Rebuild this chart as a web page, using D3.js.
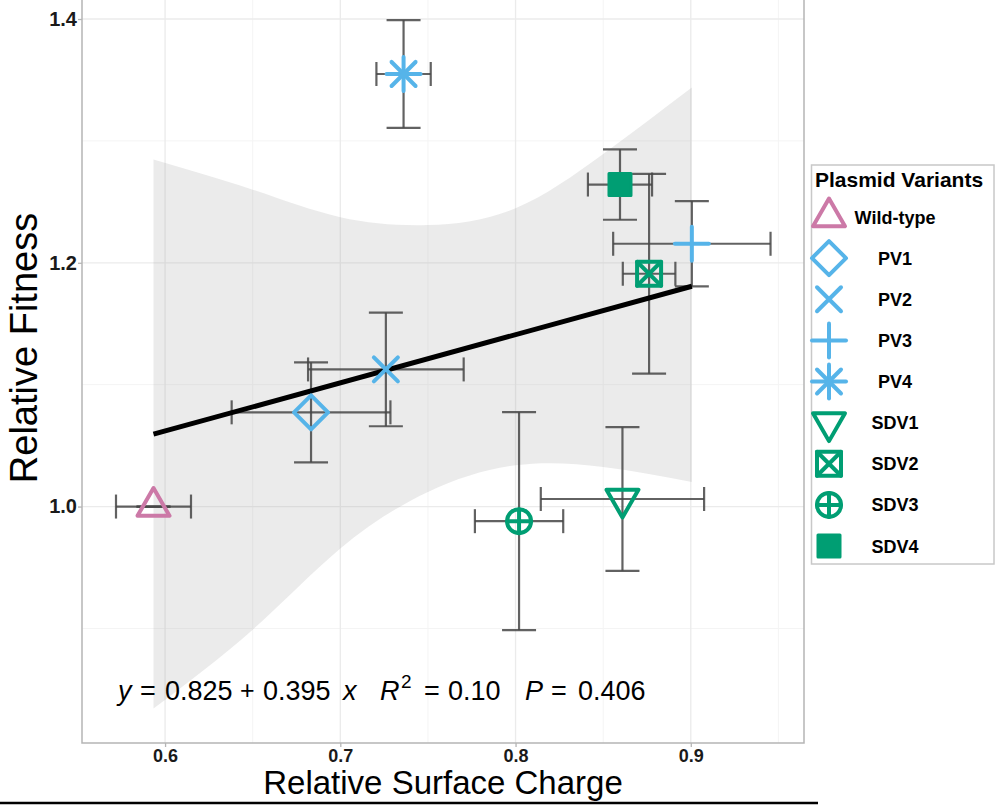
<!DOCTYPE html>
<html>
<head>
<meta charset="utf-8">
<script src="https://cdn.jsdelivr.net/npm/d3@7"></script>
<style>
  html, body { margin: 0; padding: 0; background: #fff; }
  text { font-family: "Liberation Sans", Arial, Helvetica, sans-serif; }
</style>
</head>
<body>
<div class="container"></div>
<script>
// ---- data ----
const variants = ["Wild-type", "PV1", "PV2", "PV3", "PV4", "SDV1", "SDV2", "SDV3", "SDV4"];
const surfaceCharge = [0.5934, 0.6833, 0.7260, 0.9006, 0.7361, 0.8610, 0.8762, 0.8020, 0.8596];
const chargeErr     = [0.0214, 0.0453, 0.0444, 0.0449, 0.0155, 0.0466, 0.0150, 0.0252, 0.0183];
const fitness       = [1.0000, 1.0773, 1.1125, 1.2156, 1.3549, 1.0062, 1.1910, 0.9880, 1.2642];
const fitnessErr    = [0.0000, 0.0410, 0.0466, 0.0350, 0.0442, 0.0589, 0.0820, 0.0894, 0.0289];
const shapes  = ["triUp", "diamond", "cross", "plus", "asterisk", "triDown", "squareX", "circlePlus", "squareFill"];
const colours = ["#CC79A7", "#56B4E9", "#56B4E9", "#56B4E9", "#56B4E9", "#009E73", "#009E73", "#009E73", "#009E73"];

// regression y = 0.825 + 0.395 x over the data range
const fitIntercept = 0.825;
const fitSlope = 0.395;
const fitRange = [0.5934, 0.9006];

// confidence band read at these x values
const bandX     = [0.5934, 0.65, 0.70, 0.75, 0.80, 0.85, 0.9006];
const bandUpper = [1.2847, 1.260, 1.2374, 1.2310, 1.2448, 1.2893, 1.3439];
const bandLower = [0.8344, 0.899, 0.9656, 1.0120, 1.0339, 1.0325, 1.0202];

const xTicks = [0.6, 0.7, 0.8, 0.9];
const xMinor = [0.65, 0.75, 0.85, 0.95];
const yTicks = [1.0, 1.2, 1.4];
const yMinor = [0.9, 1.1, 1.3];

const xTitle = "Relative Surface Charge";
const yTitle = "Relative Fitness";
const legendTitle = "Plasmid Variants";

// equation pieces: [text, italic, size, x position, baseline shift]
const eqParts = [
  ["y", true, 27, 118, 0], ["=", false, 27, 140, 0], ["0.825", false, 27, 165, 0],
  ["+", false, 25, 240, -1], ["0.395", false, 27, 263, 0], ["x", true, 27, 343, 0],
  ["R", true, 27, 380, 0], ["2", false, 19, 401, -12], ["=", false, 27, 424, 0],
  ["0.10", false, 27, 448, 0], ["P", true, 27, 525, 0], ["=", false, 27, 551, 0],
  ["0.406", false, 27, 578, 0]
];

// ---- layout ----
const WIDTH = 997, HEIGHT = 805;
const PANEL = { left: 82, right: 804, top: -1, bottom: 743 };

const svg = d3.select(".container")
  .append("svg")
  .attr("xmlns", "http://www.w3.org/2000/svg")
  .attr("width", WIDTH)
  .attr("height", HEIGHT)
  .attr("viewBox", `0 0 ${WIDTH} ${HEIGHT}`);

svg.append("rect")
  .attr("width", WIDTH)
  .attr("height", HEIGHT)
  .attr("fill", "#fff");

const x = d3.scaleLinear()
  .domain([0.5526, 0.9646])
  .range([PANEL.left, PANEL.right]);

const y = d3.scaleLinear()
  .domain([0.806, 1.4156])
  .range([PANEL.bottom, PANEL.top + 1]);

// grid (minor first, then major)
const grid = svg.append("g").attr("class", "grid");
grid.selectAll(".xminor").data(xMinor).enter().append("line")
  .attr("x1", d => x(d)).attr("x2", d => x(d))
  .attr("y1", PANEL.top).attr("y2", PANEL.bottom)
  .attr("stroke", "#f4f4f4").attr("stroke-width", 1);
grid.selectAll(".yminor").data(yMinor).enter().append("line")
  .attr("x1", PANEL.left).attr("x2", PANEL.right)
  .attr("y1", d => y(d)).attr("y2", d => y(d))
  .attr("stroke", "#f4f4f4").attr("stroke-width", 1);
grid.selectAll(".xmajor").data(xTicks).enter().append("line")
  .attr("x1", d => x(d)).attr("x2", d => x(d))
  .attr("y1", PANEL.top).attr("y2", PANEL.bottom)
  .attr("stroke", "#ebebeb").attr("stroke-width", 1.3);
grid.selectAll(".ymajor").data(yTicks).enter().append("line")
  .attr("x1", PANEL.left).attr("x2", PANEL.right)
  .attr("y1", d => y(d)).attr("y2", d => y(d))
  .attr("stroke", "#ebebeb").attr("stroke-width", 1.3);

// confidence band
const band = bandX.map((v, i) => ({ x: v, lo: bandLower[i], hi: bandUpper[i] }));
svg.append("path")
  .datum(band)
  .attr("fill", "#999999")
  .attr("fill-opacity", 0.2)
  .attr("d", d3.area()
    .x(d => x(d.x))
    .y0(d => y(d.lo))
    .y1(d => y(d.hi))
    .curve(d3.curveNatural));

const points = variants.map((name, i) => ({
  name, sx: surfaceCharge[i], sxe: chargeErr[i], fy: fitness[i], fye: fitnessErr[i],
  shape: shapes[i], colour: colours[i]
}));

// error bars
const bars = svg.append("g")
  .attr("stroke", "#464646")
  .attr("stroke-opacity", 0.85)
  .attr("stroke-width", 2.2)
  .attr("fill", "none");
points.forEach(p => {
  const g = bars.append("g");
  // vertical
  g.append("line").attr("x1", x(p.sx)).attr("x2", x(p.sx))
    .attr("y1", y(p.fy - p.fye)).attr("y2", y(p.fy + p.fye));
  [p.fy - p.fye, p.fy + p.fye].forEach(v => {
    g.append("line").attr("x1", x(p.sx) - 17).attr("x2", x(p.sx) + 17)
      .attr("y1", y(v)).attr("y2", y(v));
  });
  // horizontal
  g.append("line").attr("x1", x(p.sx - p.sxe)).attr("x2", x(p.sx + p.sxe))
    .attr("y1", y(p.fy)).attr("y2", y(p.fy));
  [p.sx - p.sxe, p.sx + p.sxe].forEach(v => {
    g.append("line").attr("x1", x(v)).attr("x2", x(v))
      .attr("y1", y(p.fy) - 12).attr("y2", y(p.fy) + 12);
  });
});

// regression line
svg.append("path")
  .datum(fitRange)
  .attr("fill", "none")
  .attr("stroke", "#000")
  .attr("stroke-width", 5)
  .attr("d", d3.line()
    .x(d => x(d))
    .y(d => y(fitIntercept + fitSlope * d)));

// symbol drawing, ggplot-like shapes
function drawShape(g, shape, colour) {
  const sw = 4;
  const stroke = sel => sel.attr("stroke", colour).attr("stroke-width", sw)
    .attr("fill", "none").attr("stroke-linecap", "round").attr("stroke-linejoin", "round");
  const seg = (x1, y1, x2, y2) => g.append("line")
    .attr("x1", x1).attr("y1", y1).attr("x2", x2).attr("y2", y2).call(stroke);
  if (shape === "triUp") {
    g.append("path").attr("d", "M0,-18.5L16,9.3L-16,9.3Z").call(stroke);
  } else if (shape === "triDown") {
    g.append("path").attr("d", "M0,18.5L16,-9.3L-16,-9.3Z").call(stroke);
  } else if (shape === "diamond") {
    g.append("path").attr("d", "M0,-17L17,0L0,17L-17,0Z").call(stroke);
  } else if (shape === "cross") {
    seg(-12, -12, 12, 12); seg(-12, 12, 12, -12);
  } else if (shape === "plus") {
    seg(-17, 0, 17, 0); seg(0, -17, 0, 17);
  } else if (shape === "asterisk") {
    seg(-17, 0, 17, 0); seg(0, -17, 0, 17);
    seg(-12, -12, 12, 12); seg(-12, 12, 12, -12);
  } else if (shape === "squareX") {
    g.append("rect").attr("x", -12).attr("y", -12).attr("width", 24).attr("height", 24).call(stroke);
    seg(-12, -12, 12, 12); seg(-12, 12, 12, -12);
  } else if (shape === "circlePlus") {
    g.append("circle").attr("r", 12).call(stroke);
    seg(-12, 0, 12, 0); seg(0, -12, 0, 12);
  } else if (shape === "squareFill") {
    g.append("rect").attr("x", -11).attr("y", -11).attr("width", 22).attr("height", 22)
      .attr("fill", colour).attr("stroke", colour).attr("stroke-width", 3)
      .attr("stroke-linejoin", "round");
  }
}

// points
const pts = svg.append("g").attr("class", "points");
points.forEach(p => {
  const g = pts.append("g").attr("transform", `translate(${x(p.sx)},${y(p.fy)})`);
  drawShape(g, p.shape, p.colour);
});

// equation
const eq = svg.append("text")
  .attr("y", 700)
  .attr("font-size", 27)
  .attr("fill", "#000");
eqParts.forEach(([t, italic, size, px, shift]) => {
  eq.append("tspan")
    .attr("x", px)
    .attr("y", 700 + shift)
    .attr("font-size", size)
    .attr("font-style", italic ? "italic" : "normal")
    .text(t);
});

// panel border
svg.append("rect")
  .attr("x", PANEL.left)
  .attr("y", PANEL.top)
  .attr("width", PANEL.right - PANEL.left)
  .attr("height", PANEL.bottom - PANEL.top)
  .attr("fill", "none")
  .attr("stroke", "#b5b5b5")
  .attr("stroke-width", 1.5);

// axes
const xAxis = svg.append("g")
  .attr("transform", `translate(0,${PANEL.bottom})`)
  .call(d3.axisBottom(x).tickValues(xTicks).tickFormat(d3.format(".1f")).tickSize(4).tickPadding(2));
xAxis.select(".domain").remove();
xAxis.selectAll(".tick line").attr("stroke", "#b5b5b5").attr("stroke-width", 1.3);
xAxis.selectAll(".tick text")
  .attr("font-size", 18).attr("font-weight", "bold").attr("fill", "#1a1a1a")
  .attr("font-family", "'Liberation Sans', Arial, sans-serif");

const yAxis = svg.append("g")
  .attr("transform", `translate(${PANEL.left},0)`)
  .call(d3.axisLeft(y).tickValues(yTicks).tickFormat(d3.format(".1f")).tickSize(4).tickPadding(1));
yAxis.select(".domain").remove();
yAxis.selectAll(".tick line").attr("stroke", "#b5b5b5").attr("stroke-width", 1.3);
yAxis.selectAll(".tick text")
  .attr("font-size", 20).attr("font-weight", "bold").attr("fill", "#1a1a1a")
  .attr("font-family", "'Liberation Sans', Arial, sans-serif");

// axis titles
svg.append("text")
  .attr("x", (PANEL.left + PANEL.right) / 2)
  .attr("y", 794)
  .attr("text-anchor", "middle")
  .attr("font-size", 33)
  .text(xTitle);

svg.append("text")
  .attr("transform", `translate(37,348) rotate(-90)`)
  .attr("text-anchor", "middle")
  .attr("font-size", 38)
  .text(yTitle);

// legend
const legend = svg.append("g").attr("class", "legend");
legend.append("rect")
  .attr("x", 811.5).attr("y", 165)
  .attr("width", 182.5).attr("height", 399)
  .attr("fill", "#fff")
  .attr("stroke", "#c8c8c8")
  .attr("stroke-width", 1.5);
legend.append("text")
  .attr("x", 815).attr("y", 187)
  .attr("font-size", 21).attr("font-weight", "bold")
  .text(legendTitle);

const rowY = d3.scalePoint().domain(variants).range([217, 546]);
points.forEach(p => {
  const g = legend.append("g").attr("transform", `translate(829,${rowY(p.name)})`);
  drawShape(g, p.shape, p.colour);
  legend.append("text")
    .attr("x", 895).attr("y", rowY(p.name) + 6.5)
    .attr("text-anchor", "middle")
    .attr("font-size", 18).attr("font-weight", "bold")
    .text(p.name);
});

// bottom rule
svg.append("line")
  .attr("x1", 0).attr("x2", 818)
  .attr("y1", 803).attr("y2", 803)
  .attr("stroke", "#000")
  .attr("stroke-width", 2.5);
</script>
</body>
</html>
